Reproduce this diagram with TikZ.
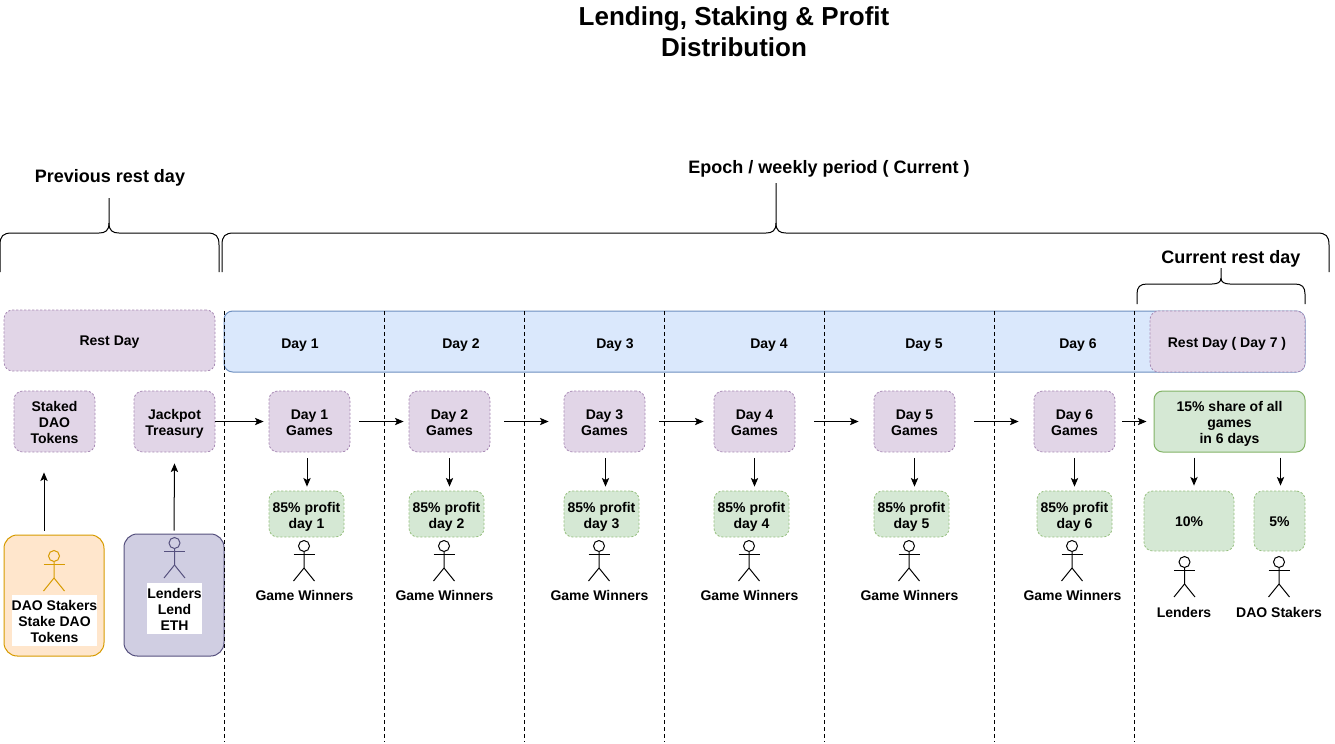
\documentclass[tikz,border=0pt]{standalone}
\usepackage{fontspec}
\setmainfont{Liberation Sans}
\usetikzlibrary{arrows.meta}
\definecolor{pf}{HTML}{E1D5E7}\definecolor{ps}{HTML}{9673A6}
\definecolor{bf}{HTML}{DAE8FC}\definecolor{bs}{HTML}{6C8EBF}
\definecolor{gf}{HTML}{D5E8D4}\definecolor{gs}{HTML}{82B366}
\definecolor{of}{HTML}{FFE6CC}\definecolor{os}{HTML}{D79B00}
\definecolor{lf}{HTML}{D0CEE2}\definecolor{ls}{HTML}{56517E}
\newcommand{\vstrut}{\rule[-.242em]{0pt}{1.2em}}
\newcommand{\mlstrut}{\rule{0pt}{\dimexpr.958em+1.5pt\relax}}
\newcommand{\tlstrut}{\rule{0pt}{.958em}}
\newcommand{\actorfig}[4]{% name, x, y of head centre, colour
  \node[circle,draw=#4,line width=.75pt,minimum size=8.25pt,inner sep=0pt] (#1) at (#2,#3) {};
  \draw[#4,line width=.75pt] (#1.south) -- ++(0,16) coordinate (#1b) -- ++(-10.5,13);
  \draw[#4,line width=.75pt] (#1b) -- ++(10.5,13);
  \draw[#4,line width=.75pt] ([shift={(-10.5,2.5)}]#1.south) -- ++(21,0);
}
\tikzset{
  x=.75pt,y=-.75pt,
  wh/.style 2 args={minimum width=#1*.75pt,minimum height=#2*.75pt},
  vc/.style={execute at begin node={\vstrut},execute at end node={\vstrut}},
  txt/.style={vc,font=\fontsize{10.5}{12}\selectfont\bfseries,align=center,inner sep=0pt},
  bx/.style={txt,rounded corners=6.5pt,line width=.75pt},
  dsh/.style={dash pattern=on 1.6pt off 1.4pt,line width=.6pt},
  pbox/.style={bx,fill=pf,draw=ps!85,dsh},
  gbox/.style={bx,fill=gf,draw=gs!85,dsh},
  arr/.style={line width=.75pt,-{Stealth[length=6.5pt,width=5.5pt,inset=1.5pt]}},
  br/.style={line width=.75pt},
  vdash/.style={line width=.75pt,dash pattern=on 3pt off 2.2pt},
  head/.style={vc,font=\fontsize{13.5}{15}\selectfont\bfseries,inner sep=0pt},
}
\begin{document}
\begin{tikzpicture}
\useasboundingbox (0,0) rectangle (1335,743);
% titles
\node[vc,font=\fontsize{19.5}{23.25}\selectfont\bfseries,align=center,inner sep=0pt] (title) at (734,31.5) {\tlstrut Lending, Staking \& Profit\\Distribution};
\node[head] (prev) at (110,176) {Previous rest day};
\node[head] (epoch) at (829,167) {Epoch / weekly period ( Current )};
\node[head] (curr) at (1231,257) {Current rest day};
% braces
\draw[br] (0,272) -- (0,245) .. controls (0,236) and (3,233) .. (12,233) -- (99,233) .. controls (105,233) and (109,231) .. (109,223) -- (109,198);
\draw[br] (109,223) .. controls (109,231) and (113,233) .. (119,233) -- (207,233) .. controls (216,233) and (219,236) .. (219,245) -- (219,272);
\draw[br] (222,272) -- (222,245) .. controls (222,236) and (225,233) .. (234,233) -- (766,233) .. controls (772,233) and (776,231) .. (776,223) -- (776,183);
\draw[br] (776,223) .. controls (776,231) and (780,233) .. (786,233) -- (1317,233) .. controls (1326,233) and (1329,236) .. (1329,245) -- (1329,272);
\draw[br] (1137,304) -- (1137,294) .. controls (1137,287) and (1140,284) .. (1147,284) -- (1212,284) .. controls (1218,284) and (1221,282) .. (1221,278) -- (1221,268);
\draw[br] (1221,278) .. controls (1221,282) and (1224,284) .. (1230,284) -- (1295,284) .. controls (1302,284) and (1305,287) .. (1305,294) -- (1305,304);
% bands
\node[pbox,wh={211}{61}] (rest0) at (109.5,340.5) {Rest Day};
\node[bx,fill=bf,draw=bs,wh={1081}{61}] (band) at (764.5,341.5) {};
\node[pbox,wh={155}{61}] (rest7) at (1227.5,341.5) {};
\node[txt] (rest7t) at (1227,342) {Rest Day ( Day 7 )};
\foreach \n/\x in {1/300,2/461,3/615,4/769,5/924,6/1078}
  \node[txt] (dl\n) at (\x,343) {Day \n};
% treasury
\node[pbox,wh={81}{61}] (staked) at (54.5,421.5) {\mlstrut Staked\\DAO\\Tokens};
\node[pbox,wh={81}{61}] (jack) at (174.5,421.5) {\mlstrut Jackpot\\Treasury};
% games + profit
\foreach \n/\g/\p in {1/309.5/306.5,2/449.5/446.5,3/604.5/601.5,4/754.5/751.5,5/914.5/911.5,6/1074.5/1074.5}{
  \node[pbox,wh={81}{61}] (g\n) at (\g,421.5) {\mlstrut Day \n\\Games};
  \node[gbox,wh={75}{46}] (p\n) at (\p,514) {\mlstrut 85\% profit\\day \n};
}
\node[bx,fill=gf,draw=gs,wh={151}{61}] (share) at (1229.5,421.5) {\mlstrut 15\% share of all\\games\\in 6 days};
\node[gbox,wh={90}{60}] (p10) at (1189,521) {10\%};
\node[gbox,wh={51}{60}] (p5) at (1279.5,521) {5\%};
% staker boxes
\node[bx,fill=of,draw=os,rounded corners=10pt,wh={100}{121}] (dao) at (54,595.5) {};
\node[bx,fill=lf,draw=ls,rounded corners=10pt,wh={100}{122}] (lend) at (174,595) {};
\actorfig{adao}{54}{556}{os}
\actorfig{alend}{174.5}{543}{ls}
\node[txt,fill=white,wh={85}{48}] (daot) at (54.5,620.5) {\mlstrut DAO Stakers\\Stake DAO\\Tokens};
\node[txt,fill=white,wh={55}{48}] (lendt) at (174.5,608.5) {\mlstrut Lenders\\Lend\\ETH};
% winners
\foreach \n/\x in {1/304,2/444,3/599,4/749,5/909,6/1072}{
  \actorfig{w\n}{\x}{546}{black}
  \node[txt] (wl\n) at (\x+0.5,595) {Game Winners};
}
\actorfig{alen2}{1184.5}{562}{black}
\actorfig{adao2}{1279}{562}{black}
\node[txt] (ll) at (1184,612) {Lenders};
\node[txt] (dl) at (1279,612) {DAO Stakers};
% dashed verticals
\foreach \x in {224,384,524,664,824,994,1134}
  \draw[vdash] (\x,311) -- (\x,741);
% arrows
\draw[arr] ([shift={(-10,-4)}]dao.north) -- ([shift={(-10,20)}]staked.south -| dao.north);
\draw[arr] ([shift={(0,-3)}]lend.north) -- ([shift={(0,11)}]jack.south);
\draw[arr] (jack.east) -- ([xshift=-5*.75pt]g1.west);
\foreach \a/\b/\s/\e in {1/2/9/5,2/3/14/15,3/4/14/10,4/5/19/15,5/6/19/15}
  \draw[arr] ([xshift=\s*.75pt]g\a.east) -- ([xshift=-\e*.75pt]g\b.west);
\draw[arr] ([xshift=7*.75pt]g6.east) -- ([xshift=-7*.75pt]share.west);
\foreach \n/\d in {1/-2.5,2/0,3/1,4/0,5/0,6/0}
  \draw[arr] ([shift={(\d,6)}]g\n.south) -- ([shift={(\d,-4)}]g\n.south |- p\n.north);
\draw[arr] ([shift={(5,5)}]p10.center |- share.south) -- ([shift={(5,-5)}]p10.north);
\draw[arr] ([shift={(1,5)}]p5.center |- share.south) -- ([shift={(1,-5)}]p5.north);
\end{tikzpicture}
\end{document}
